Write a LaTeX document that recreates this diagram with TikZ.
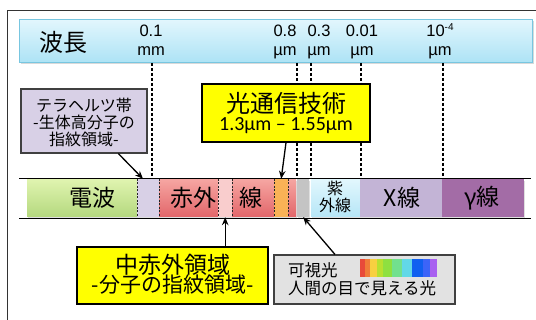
\documentclass[tikz,border=0pt]{standalone}
\usepackage{fontspec}
\setmainfont{Liberation Sans}
\newfontfamily\jp{Noto Sans CJK JP}
\newfontfamily\cb{Carlito}
\usetikzlibrary{shadows,calc,arrows.meta}
\newcommand\fsz[2]{\fontsize{#1}{#2}\selectfont}
\definecolor{hdrtop}{HTML}{E2F6FD}
\definecolor{hdrbot}{HTML}{ADE3F5}
\definecolor{hdrbdr}{HTML}{78C6E0}
\definecolor{greentop}{HTML}{E0F4B0}
\definecolor{greenbot}{HTML}{B4D87E}
\definecolor{lavc}{HTML}{D8D0E6}
\definecolor{redtop}{HTML}{F6A6A2}
\definecolor{redbot}{HTML}{E2666A}
\definecolor{pinkc}{HTML}{F9CDCD}
\definecolor{orngc}{HTML}{F9B256}
\definecolor{grayseg}{HTML}{C4C4C4}
\definecolor{uvtop}{HTML}{E2F7FD}
\definecolor{uvbot}{HTML}{B6E6F7}
\definecolor{xray}{HTML}{C3B4D6}
\definecolor{gam}{HTML}{A36CA6}
\definecolor{boxgray}{HTML}{E2E2E2}
\definecolor{bdr}{HTML}{404040}
\definecolor{yel}{HTML}{FFFF00}
\begin{document}
\begin{tikzpicture}[x=1pt,y=-1pt,
  seg/.style={inner sep=0, minimum height=38pt, anchor=west,
    drop shadow={shadow xshift=1pt, shadow yshift=-2pt, opacity=0.25}},
  redseg/.style={seg, top color=redtop, bottom color=redbot},
  sepl/.style={dashed, dash pattern=on 2pt off 1.5pt, line width=0.7pt, black!85},
  dsh/.style={dashed, dash pattern=on 3pt off 2pt, line width=1.1pt, black},
  wl/.style={inner sep=0, anchor=base, font=\fsz{16.5}{18}},
  txt/.style={inner sep=0, font=\jp},
  lbox/.style={draw=bdr, line width=1.1pt, inner sep=0},
  ybox/.style={draw=black, line width=1.3pt, fill=yel, inner sep=0},
  arr/.style={-{Stealth[length=8pt,width=6.5pt]}, line width=1.3pt, black}]
\useasboundingbox (0,0) rectangle (536,320);
\draw[line width=0.8pt, black!80] (7,320) -- (7,10) -- (536,10);
% header
\node[draw=hdrbdr, line width=0.8pt, top color=hdrtop, bottom color=hdrbot,
  minimum width=513pt, minimum height=43pt, inner sep=0, anchor=north west,
  drop shadow={shadow xshift=1.5pt, shadow yshift=-2pt, opacity=0.3}] (hdr) at (19,19) {};
\node[txt, font=\jp\fsz{24}{24}] (hacho) at (63,42) {波長};
\node[wl] (la1) at (151,37) {0.1};
\node[wl] (la2) at (151,55.5) {mm};
\node[wl] (lb1) at (285,37) {0.8};
\node[wl] (lb2) at (285,55.5) {µm};
\node[wl] (lc1) at (319,37) {0.3};
\node[wl] (lc2) at (319,55.5) {µm};
\node[wl] (ld1) at (362,37) {0.01};
\node[wl] (ld2) at (362,55.5) {µm};
\node[wl] (le1) at (440,37) {10\raisebox{6pt}{\fsz{10}{10}-4}};
\node[wl] (le2) at (440,55.5) {µm};
% guide coordinates
\coordinate (g1) at (152,178);
\coordinate (g2) at (297,178);
\coordinate (g3) at (311,178);
\coordinate (g4) at (361,178);
\coordinate (g5) at (443,178);
\foreach \g in {g1,g2,g3,g4,g5} \draw[dsh] (\g |- hdr.south) -- (\g);
% spectrum bar
\node[seg, minimum width=110pt, top color=greentop, bottom color=greenbot] (radio) at (27,198) {};
\node[seg, minimum width=22pt, fill=lavc] (thz) at (137,198) {};
\node[redseg, minimum width=59pt] (ir1) at (159,198) {};
\node[seg, minimum width=14pt, fill=pinkc] (mir) at (218,198) {};
\node[redseg, minimum width=42pt] (ir2) at (232,198) {};
\node[seg, minimum width=14pt, fill=orngc] (tel) at (274,198) {};
\node[redseg, minimum width=8pt] (ir3) at (288,198) {};
\node[seg, minimum width=12pt, fill=grayseg] (vis) at (297,198) {};
\node[seg, minimum width=49pt, top color=uvtop, bottom color=uvbot] (uv) at (311,198) {};
\node[seg, minimum width=82pt, fill=xray] (xr) at (360,198) {};
\node[seg, minimum width=82pt, fill=gam] (gm) at (442,198) {};
\draw[sepl] (radio.north east) -- (radio.south east);
\draw[sepl] (thz.north east) -- (thz.south east);
\draw[sepl] (mir.north west) -- (mir.south west);
\draw[sepl] (mir.north east) -- (mir.south east);
\draw[sepl] (tel.north west) -- (tel.south west);
\draw[sepl] (tel.north east) -- (tel.south east);
\coordinate (bl1) at (19,178);
\coordinate (br1) at (531,178);
\coordinate (bl2) at (19,218);
\coordinate (br2) at (531,218);
\draw[line width=0.9pt] (bl1) -- (br1);
\draw[line width=0.9pt] (bl2) -- (br2);
\node[txt, font=\jp\fsz{23}{23}] (tradio) at (92,198) {電波};
\node[txt, font=\jp\fsz{23}{23}] (tir1) at (193,198) {赤外};
\node[txt, font=\jp\fsz{23}{23}] (tir2) at (251,198) {線};
\node[txt, font=\jp\fsz{16}{16}] (tuv1) at (335,188.5) {紫};
\node[txt, font=\jp\fsz{16}{16}] (tuv2) at (335,205.5) {外線};
\node[txt, font=\jp\fsz{23}{23}] (txr) at (402,198) {X線};
\node[txt, font=\jp\fsz{23}{23}] (tgm) at (482,198) {γ線};
% terahertz box
\node[lbox, fill=lavc, minimum width=126pt, minimum height=64pt] (tera) at (84,121) {};
\node[txt, font=\jp\fsz{16}{16}] (tera1) at (84,105) {テラヘルツ帯};
\node[txt, font=\jp\fsz{16}{16}] (tera2) at (84,122) {-生体高分子の};
\node[txt, font=\jp\fsz{16}{16}] (tera3) at (84,139) {指紋領域-};
% optical communication box
\node[ybox, minimum width=168pt, minimum height=58pt] (optic) at (286,113) {};
\node[txt, font=\jp\fsz{24}{24}] (optic1) at (286,103) {光通信技術};
\node[inner sep=0, anchor=base, font=\cb\fsz{20}{20}] (optic2) at (286,131) {1.3µm – 1.55µm};
% mid infrared box
\node[ybox, minimum width=191pt, minimum height=57pt] (midir) at (172.5,275.5) {};
\node[txt, font=\jp\fsz{23}{23}] (midir1) at (172.5,265) {中赤外領域};
\node[txt, font=\jp\fsz{21}{21}] (midir2) at (172.5,285) {-分子の指紋領域-};
% visible box
\node[lbox, fill=boxgray, minimum width=181pt, minimum height=49pt] (visbox) at (364.5,279.5) {};
\node[txt, anchor=west, font=\jp\fsz{16.5}{16.5}] (vis1) at (288,270) {可視光};
\node[txt, anchor=west, font=\jp\fsz{16.5}{16.5}] (vis2) at (288,288) {人間の目で見える光};
\foreach \xa/\xb/\c in {360/365/E84A3A, 365/370/F07C38, 370/376.7/F8D040, 376.7/383.3/B8E030,
  383.3/391.7/8EE040, 391.7/401.7/72E08E, 401.7/411.7/62D8E8, 411.7/423.3/1060F0,
  423.3/430/3C64F8, 430/436.7/A860F0}
  {\definecolor{rbc}{HTML}{\c}\fill[rbc] (\xa,259) rectangle (\xb,277);}
% arrows
\draw[arr] ($(tera.south west)!0.77!(tera.south east)$) -- ($(thz.north west)+(6,0)$);
\draw[arr] (optic.south) -- (tel.north);
\draw[arr] (mir.south |- midir.north) -- (mir.south);
\draw[arr] ($(visbox.north)+(-29.5,0)$) -- (vis.south);
\end{tikzpicture}
\end{document}
